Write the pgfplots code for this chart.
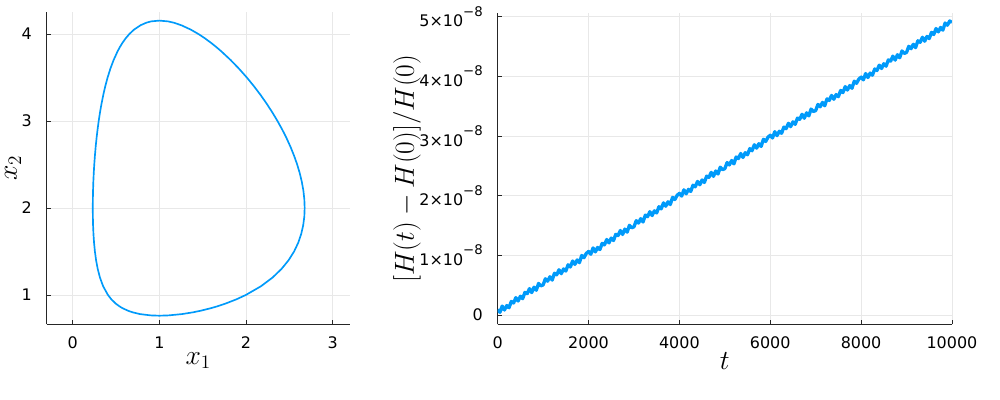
\documentclass[border=0pt]{standalone}
\usepackage[no-math]{fontspec}
\setmainfont{DejaVu Sans}
\usepackage{pgfplots}
\usepackage{pgfplotstable}
\pgfplotsset{compat=1.18}
\definecolor{jblue}{RGB}{0,154,250}
\newcommand{\sci}[1]{#1×10\raisebox{8bp}{\fontsize{10}{11}\selectfont −8}}

% Lotka-Volterra orbit (x1, x2)
\pgfplotstableread{
x y
2.677 2.0
2.6731 2.1
2.662 2.2
2.6442 2.3
2.6202 2.4
2.5904 2.5
2.5551 2.6
2.5146 2.7
2.4691 2.8
2.4186 2.9
2.3633 3.0
2.303 3.1
2.2378 3.2
2.1674 3.3
2.0914 3.4
2.0093 3.5
1.9204 3.6
1.8233 3.7
1.716 3.8
1.6574 3.85
1.5945 3.9
1.5262 3.95
1.4505 4.0
1.3635 4.05
1.2556 4.1
1.167 4.13
1.101 4.145
1.0 4.154
0.905 4.145
0.8499 4.13
0.7818 4.1
0.7077 4.05
0.6541 4.0
0.6114 3.95
0.5756 3.9
0.5448 3.85
0.5178 3.8
0.4721 3.7
0.4347 3.6
0.4032 3.5
0.3764 3.4
0.3532 3.3
0.3332 3.2
0.3156 3.1
0.3003 3.0
0.28695 2.9
0.2753 2.8
0.2652 2.7
0.2566 2.6
0.2492 2.5
0.2432 2.4
0.2385 2.3
0.2351 2.2
0.2330 2.1
0.2322 2.0
0.2330 1.9
0.2355 1.8
0.23995 1.7
0.2468 1.6
0.25657 1.5
0.27007 1.4
0.2888 1.3
0.3148 1.2
0.3517 1.1
0.407 1.0
0.446 0.95
0.4979 0.9
0.5386 0.87
0.5715 0.85
0.6354 0.82
0.693 0.8
0.7778 0.78
0.901 0.765
1.0 0.7615
1.106 0.765
1.261 0.78
1.3865 0.8
1.4832 0.82
1.6026 0.85
1.6708 0.87
1.7614 0.9
1.89 0.95
1.9983 1.0
2.1725 1.1
2.3063 1.2
2.4106 1.3
2.492 1.4
2.555 1.5
2.6025 1.6
2.6368 1.7
2.6598 1.8
2.6729 1.9
2.677 2.0
}\orbit

% relative energy error
\pgfplotstableread{
t y
0 0.090e-8
50 0.044e-8
100 0.149e-8
150 0.083e-8
200 0.157e-8
250 0.122e-8
300 0.226e-8
350 0.200e-8
400 0.290e-8
450 0.234e-8
500 0.314e-8
550 0.273e-8
600 0.377e-8
650 0.357e-8
700 0.441e-8
750 0.375e-8
800 0.465e-8
850 0.414e-8
900 0.528e-8
950 0.488e-8
1000 0.502e-8
1050 0.606e-8
1100 0.566e-8
1150 0.640e-8
1200 0.584e-8
1250 0.699e-8
1300 0.673e-8
1350 0.757e-8
1400 0.692e-8
1450 0.771e-8
1500 0.736e-8
1550 0.840e-8
1600 0.804e-8
1650 0.904e-8
1700 0.848e-8
1750 0.922e-8
1800 0.877e-8
1850 0.996e-8
1900 0.960e-8
1950 1.030e-8
2000 1.064e-8
2050 1.018e-8
2100 1.123e-8
2150 1.057e-8
2200 1.131e-8
2250 1.096e-8
2300 1.200e-8
2350 1.174e-8
2400 1.264e-8
2450 1.208e-8
2500 1.288e-8
2550 1.247e-8
2600 1.351e-8
2650 1.331e-8
2700 1.415e-8
2750 1.349e-8
2800 1.439e-8
2850 1.388e-8
2900 1.502e-8
2950 1.462e-8
3000 1.476e-8
3050 1.580e-8
3100 1.540e-8
3150 1.614e-8
3200 1.558e-8
3250 1.673e-8
3300 1.647e-8
3350 1.731e-8
3400 1.666e-8
3450 1.745e-8
3500 1.710e-8
3550 1.814e-8
3600 1.778e-8
3650 1.878e-8
3700 1.822e-8
3750 1.896e-8
3800 1.851e-8
3850 1.970e-8
3900 1.934e-8
3950 2.004e-8
4000 2.038e-8
4050 1.992e-8
4100 2.097e-8
4150 2.031e-8
4200 2.105e-8
4250 2.070e-8
4300 2.174e-8
4350 2.148e-8
4400 2.238e-8
4450 2.182e-8
4500 2.262e-8
4550 2.221e-8
4600 2.325e-8
4650 2.305e-8
4700 2.389e-8
4750 2.323e-8
4800 2.413e-8
4850 2.362e-8
4900 2.476e-8
4950 2.436e-8
5000 2.450e-8
5050 2.554e-8
5100 2.514e-8
5150 2.588e-8
5200 2.532e-8
5250 2.647e-8
5300 2.621e-8
5350 2.705e-8
5400 2.640e-8
5450 2.719e-8
5500 2.684e-8
5550 2.788e-8
5600 2.752e-8
5650 2.852e-8
5700 2.796e-8
5750 2.870e-8
5800 2.825e-8
5850 2.944e-8
5900 2.908e-8
5950 2.978e-8
6000 3.012e-8
6050 2.966e-8
6100 3.071e-8
6150 3.005e-8
6200 3.079e-8
6250 3.044e-8
6300 3.148e-8
6350 3.122e-8
6400 3.212e-8
6450 3.156e-8
6500 3.236e-8
6550 3.195e-8
6600 3.299e-8
6650 3.279e-8
6700 3.363e-8
6750 3.297e-8
6800 3.387e-8
6850 3.336e-8
6900 3.450e-8
6950 3.410e-8
7000 3.424e-8
7050 3.528e-8
7100 3.488e-8
7150 3.562e-8
7200 3.506e-8
7250 3.621e-8
7300 3.595e-8
7350 3.679e-8
7400 3.614e-8
7450 3.693e-8
7500 3.658e-8
7550 3.762e-8
7600 3.726e-8
7650 3.826e-8
7700 3.770e-8
7750 3.844e-8
7800 3.799e-8
7850 3.918e-8
7900 3.882e-8
7950 3.952e-8
8000 3.986e-8
8050 3.940e-8
8100 4.045e-8
8150 3.979e-8
8200 4.053e-8
8250 4.018e-8
8300 4.122e-8
8350 4.096e-8
8400 4.186e-8
8450 4.130e-8
8500 4.210e-8
8550 4.169e-8
8600 4.273e-8
8650 4.253e-8
8700 4.337e-8
8750 4.271e-8
8800 4.361e-8
8850 4.310e-8
8900 4.424e-8
8950 4.384e-8
9000 4.398e-8
9050 4.502e-8
9100 4.462e-8
9150 4.536e-8
9200 4.480e-8
9250 4.595e-8
9300 4.569e-8
9350 4.653e-8
9400 4.588e-8
9450 4.667e-8
9500 4.632e-8
9550 4.736e-8
9600 4.700e-8
9650 4.800e-8
9700 4.744e-8
9750 4.818e-8
9800 4.773e-8
9850 4.892e-8
9900 4.856e-8
9950 4.926e-8
10000 4.905e-8
}\energy

\pgfplotsset{
  jstyle/.style={
    scale only axis,
    axis x line*=bottom, axis y line*=left,
    axis line style={-, black!85, line width=0.8bp},
    tick align=inside,
    major tick length=3bp,
    tick style={black!85, line width=0.6bp},
    grid=major,
    major grid style={black!9, line width=0.6bp},
    /pgf/number format/assume math mode=true,
    tick label style={font=\fontsize{12}{14}\selectfont},
    xticklabel style={anchor=north, inner sep=0pt, yshift=-9.3bp},
    yticklabel style={anchor=east, inner sep=0pt, xshift=-11bp},
    label style={font=\fontsize{20}{24}\selectfont},
  }
}

\begin{document}
\begin{tikzpicture}
\path[use as bounding box] (-35bp,-56.8bp) rectangle (715bp,243.2bp);
\begin{axis}[jstyle,
  at={(0,0)}, anchor=south west,
  width=227.5bp, height=234.2bp,
  xmin=-0.3, xmax=3.2, ymin=0.663, ymax=4.253,
  xtick={0,1,2,3}, ytick={1,2,3,4},
  xlabel={$x_1$}, ylabel={$x_2$},
  xlabel style={at={(axis description cs:0.5,-0.0887)}, anchor=north, inner sep=0pt},
  ylabel style={at={(axis description cs:-0.138,0.5)}, anchor=north, inner sep=0pt},
]
\addplot[jblue, line width=1.25bp, line join=round] table[x=x, y=y] {\orbit};
\end{axis}
\begin{axis}[jstyle,
  at={(338.25bp,0)}, anchor=south west,
  width=340.7bp, height=233.3bp,
  xmin=0, xmax=10000, ymin=-0.156e-8, ymax=5.057e-8,
  xtick={0,2000,4000,6000,8000,10000},
  xticklabels={0,2000,4000,6000,8000,10000},
  scaled x ticks=false, scaled y ticks=false,
  ytick={0,1e-8,2e-8,3e-8,4e-8,5e-8},
  yticklabels={0,\sci{1},\sci{2},\sci{3},\sci{4},\sci{5}},
  xlabel={$t$}, ylabel={$[H(t)-H(0)]/H(0)$},
  xlabel style={at={(axis description cs:0.5,-0.0907)}, anchor=north, inner sep=0pt},
  ylabel style={at={(axis description cs:-0.2305,0.5)}, anchor=north, inner sep=0pt},
]
\addplot[jblue, line width=2.5bp, line join=round] table[x=t, y=y] {\energy};
\end{axis}
\end{tikzpicture}
\end{document}
